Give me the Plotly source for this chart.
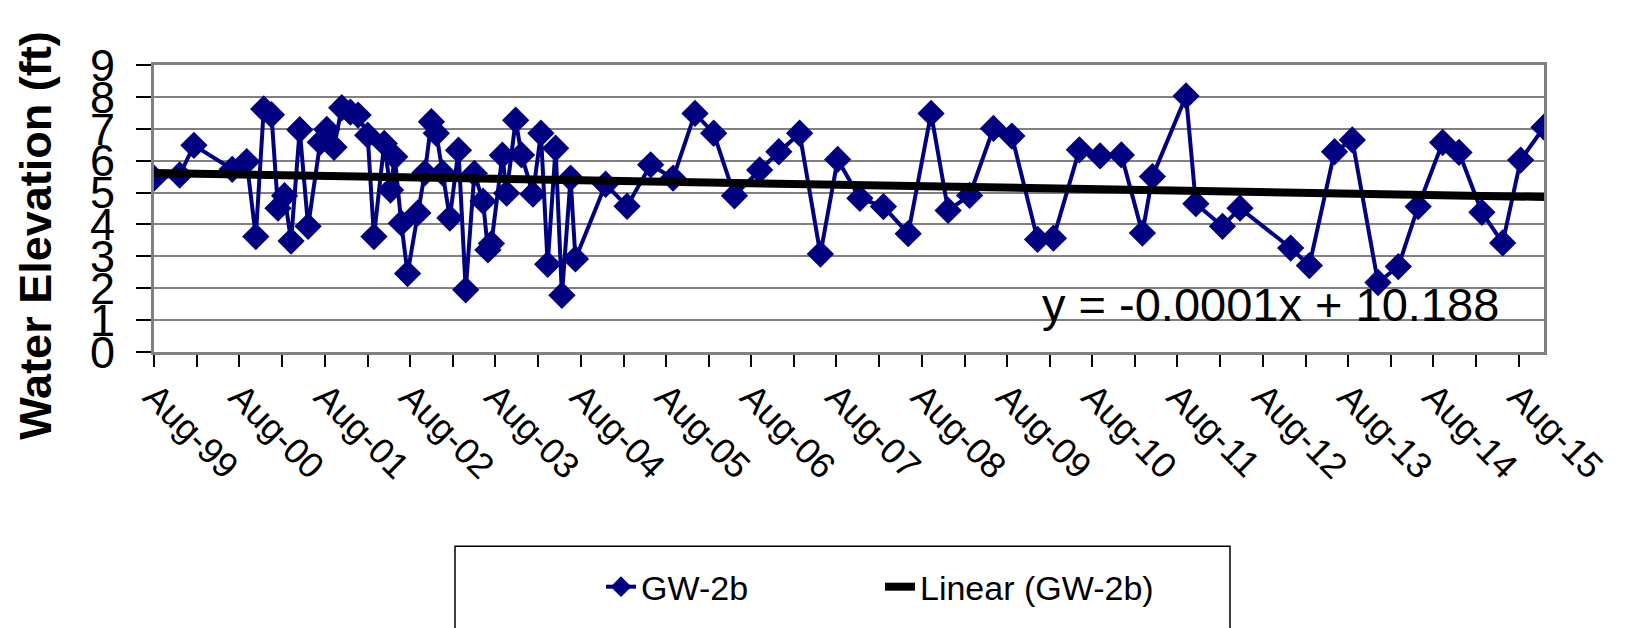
import numpy as np
import pandas as pd
import plotly.graph_objects as go

# ---------------- data ----------------
dates = [
    "1999-08-01", "1999-11-19", "2000-01-19", "2000-07-01", "2000-09-01", "2000-10-10",
    "2000-11-13", "2000-12-16", "2001-01-13", "2001-02-10", "2001-03-10", "2001-04-16",
    "2001-05-22", "2001-07-13", "2001-08-10", "2001-09-10", "2001-10-13", "2001-11-19",
    "2001-12-22", "2002-02-01", "2002-02-28", "2002-04-13", "2002-05-10", "2002-05-28",
    "2002-06-25", "2002-07-22", "2002-09-04", "2002-10-04", "2002-11-01", "2002-11-22",
    "2002-12-19", "2003-01-19", "2003-02-25", "2003-03-28", "2003-05-04", "2003-06-10",
    "2003-07-01", "2003-07-16", "2003-09-01", "2003-09-19", "2003-10-28", "2003-11-22",
    "2004-01-10", "2004-02-13", "2004-03-13", "2004-04-16", "2004-05-13", "2004-06-19",
    "2004-07-10", "2004-11-16", "2005-02-16", "2005-05-28", "2005-09-01", "2005-12-04",
    "2006-02-22", "2006-05-22", "2006-09-07", "2006-11-28", "2007-02-25", "2007-05-25",
    "2007-08-07", "2007-11-10", "2008-02-19", "2008-06-04", "2008-09-10", "2008-11-22",
    "2009-02-22", "2009-06-04", "2009-08-22", "2009-12-10", "2010-02-16", "2010-06-07",
    "2010-09-04", "2010-12-04", "2011-03-04", "2011-04-16", "2011-09-07", "2011-10-19",
    "2012-02-10", "2012-04-25", "2012-11-28", "2013-02-16", "2013-06-04", "2013-08-19",
    "2013-12-07", "2014-03-04", "2014-05-28", "2014-09-10", "2014-11-19", "2015-02-25",
    "2015-05-25", "2015-08-10", "2015-11-18",
]
water_elev = [
    5.45, 5.55, 6.48, 5.73, 5.97, 3.62,
    7.62, 7.44, 4.51, 4.90, 3.48, 6.97,
    3.94, 6.58, 6.98, 6.42, 7.66, 7.52,
    7.43, 6.80, 3.62, 6.54, 5.08, 6.12,
    4.04, 2.46, 4.36, 5.62, 7.22, 6.86,
    5.62, 4.20, 6.33, 1.95, 5.60, 4.73,
    3.20, 3.40, 6.17, 4.98, 7.27, 6.18,
    4.95, 6.86, 2.75, 6.39, 1.78, 5.45,
    2.92, 5.26, 4.57, 5.87, 5.45, 7.48,
    6.86, 4.90, 5.71, 6.28, 6.86, 3.07,
    6.04, 4.82, 4.56, 3.71, 7.48, 4.44,
    4.91, 7.01, 6.77, 3.53, 3.57, 6.34,
    6.15, 6.18, 3.73, 5.50, 8.03, 4.65,
    3.94, 4.51, 3.26, 2.71, 6.28, 6.65,
    2.18, 2.68, 4.56, 6.57, 6.26, 4.38,
    3.42, 6.02, 7.05,
]
series_name = "GW-2b"
trend_name = "Linear (GW-2b)"
equation_text = "y = -0.0001x + 10.188"
y_title = "Water Elevation (ft)"
x_tick_dates = pd.date_range("1999-08-01", "2015-08-01", freq="6MS")
x_tick_text = [d.strftime("%b-%y") if d.month == 8 else "" for d in x_tick_dates]

# ---------------- linear trend (least squares on Excel serial dates) ----------------
dt = pd.to_datetime(dates)
serial = (dt - pd.Timestamp("1899-12-30")).days.values.astype(float)
slope, intercept = np.polyfit(serial, np.array(water_elev), 1)
trend_x = [dates[0], dates[-1]]
trend_y = [slope * serial[0] + intercept, slope * serial[-1] + intercept]

FONT = "Liberation Sans, Arial, sans-serif"
OFF = 8  # default page body margin
W, H = 1627 - OFF, 628 - OFF
L, T = 154 - OFF, 65 - OFF
R = W - (1544 - OFF)
B = H - (352.5 - OFF)
pw, ph = W - L - R, H - T - B

def px_x(p):
    return (p - OFF - L) / pw

def px_y(p):
    return (H - B - (p - OFF)) / ph

fig = go.Figure()
fig.add_trace(go.Scatter(
    x=dates, y=water_elev, mode="lines+markers", name=series_name,
    line=dict(color="#000080", width=4),
    marker=dict(symbol="diamond", size=21, color="#000080"),
))
fig.add_trace(go.Scatter(
    x=trend_x, y=trend_y, mode="lines", name=trend_name,
    line=dict(color="#000000", width=8),
))

fig.update_layout(
    width=W, height=H,
    margin=dict(l=L, r=R, t=T, b=B, autoexpand=False),
    paper_bgcolor="white", plot_bgcolor="white",
    font=dict(family=FONT, color="black"),
    showlegend=True,
    legend=dict(
        orientation="h", x=px_x(601), y=px_y(588), xanchor="left", yanchor="middle",
        font=dict(size=34, family=FONT), bgcolor="rgba(0,0,0,0)", borderwidth=0,
        entrywidth=234, entrywidthmode="pixels",
    ),
    xaxis=dict(
        type="date", range=["1999-08-01", "2015-11-18"],
        tickmode="array", tickvals=list(x_tick_dates), ticktext=x_tick_text,
        tickangle=45, tickfont=dict(size=36, family=FONT),
        ticks="outside", ticklen=12, tickwidth=1.5, tickcolor="black",
        ticklabelstandoff=-6,
        showgrid=False, zeroline=False,
        showline=True, linecolor="#808080", linewidth=3, mirror=True,
    ),
    yaxis=dict(
        range=[0, 9], dtick=1, tick0=0,
        tickfont=dict(size=45, family=FONT),
        ticks="outside", ticklen=15, tickwidth=1.5, tickcolor="black",
        ticklabelstandoff=12,
        showgrid=True, gridcolor="#808080", gridwidth=1.5,
        zeroline=False,
        showline=True, linecolor="#808080", linewidth=3, mirror=True,
    ),
    annotations=[
        dict(text=equation_text, xref="paper", yref="paper",
             x=px_x(1040), y=px_y(305), xanchor="left", yanchor="middle",
             showarrow=False, font=dict(size=47, family=FONT, color="black")),
        dict(text="<b>" + y_title + "</b>", xref="paper", yref="paper",
             x=px_x(36), y=px_y(236), xanchor="center", yanchor="middle",
             textangle=-90, showarrow=False,
             font=dict(size=45, family=FONT, color="black")),
    ],
    shapes=[
        dict(type="rect", xref="paper", yref="paper",
             x0=px_x(455), x1=px_x(1230), y0=px_y(660), y1=px_y(547),
             line=dict(color="black", width=1.5), fillcolor="rgba(0,0,0,0)", layer="below"),
    ],
)

fig.write_html("out.html")
